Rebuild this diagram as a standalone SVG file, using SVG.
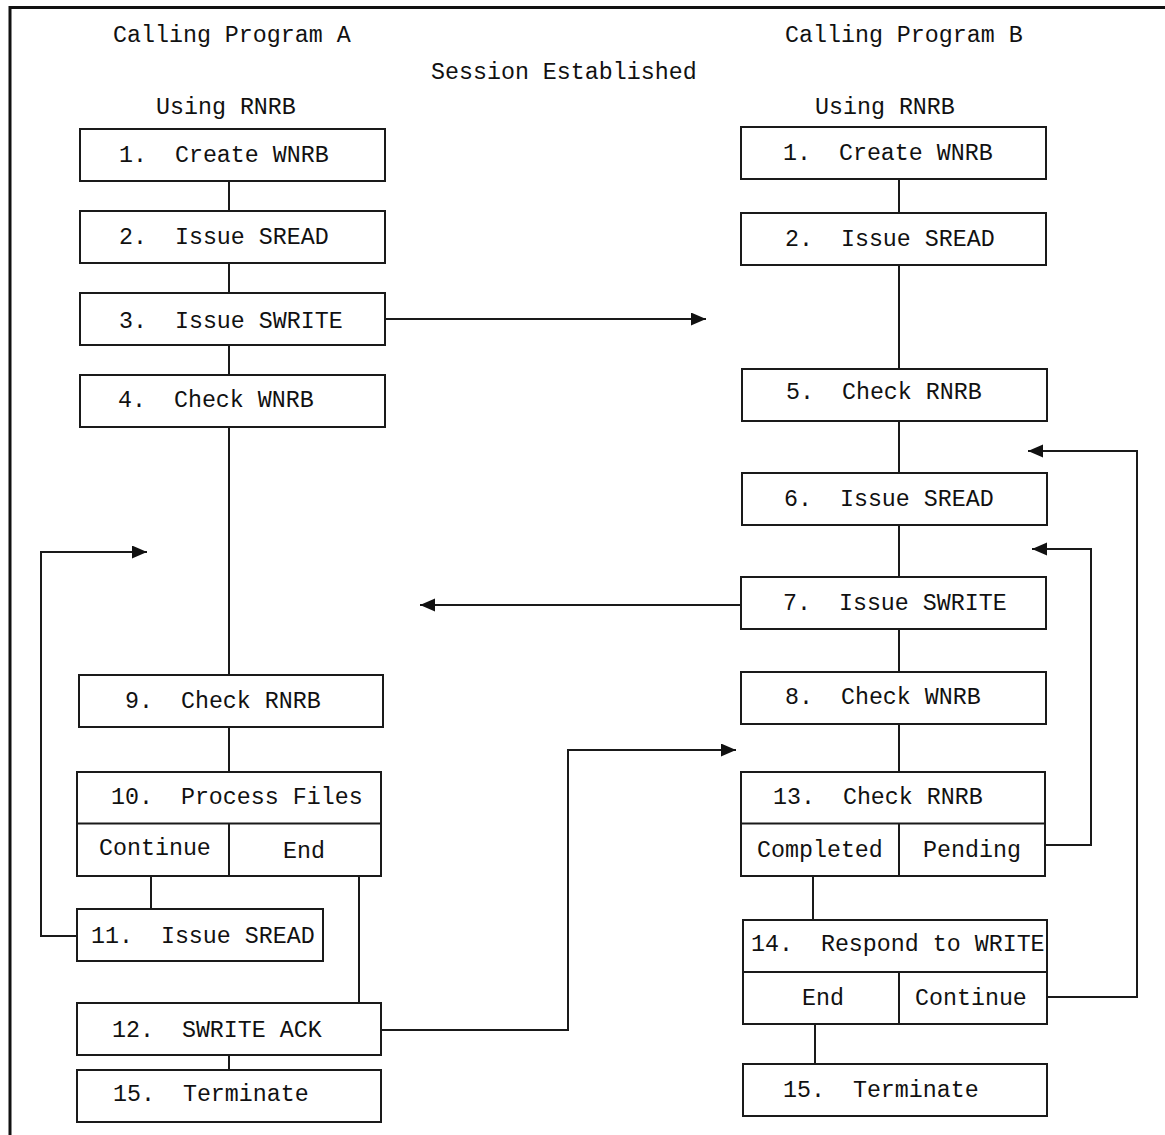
<svg xmlns="http://www.w3.org/2000/svg" width="1165" height="1135" viewBox="0 0 1165 1135">
<style>
  .box{fill:#fff;stroke:#1a1a1a;stroke-width:2}
  .ln{fill:none;stroke:#1a1a1a;stroke-width:2}
  text{font-family:"Liberation Mono","Courier New",monospace;font-size:23.3px;fill:#111;white-space:pre}
</style>
<defs>
  <marker id="ah" markerUnits="userSpaceOnUse" markerWidth="16" markerHeight="14" refX="15" refY="6.5" orient="auto">
    <path d="M0,0 L15,6.5 L0,13 z" fill="#111"/>
  </marker>
</defs>
<rect x="0" y="0" width="1165" height="1135" fill="#fff"/>
<path d="M10,1135 V7.5 H1165" fill="none" stroke="#111" stroke-width="3"/>

<g id="headers">
  <text x="113" y="42">Calling Program A</text>
  <text x="785" y="42">Calling Program B</text>
  <text x="431" y="79">Session Established</text>
  <text x="156" y="114">Using RNRB</text>
  <text x="815" y="114">Using RNRB</text>
</g>

<g id="connectors">
  <path class="ln" d="M229,181 V211 M229,263 V293 M229,345 V375 M229,427 V675 M229,727 V772"/>
  <path class="ln" d="M151,876 V909 M359,876 V1003 M229,1055 V1070"/>
  <path class="ln" d="M77,936 H41 V552 H147" marker-end="url(#ah)"/>
  <path class="ln" d="M385,319 H706" marker-end="url(#ah)"/>
  <path class="ln" d="M741,605 H420" marker-end="url(#ah)"/>
  <path class="ln" d="M381,1030 H568 V750 H736" marker-end="url(#ah)"/>
  <path class="ln" d="M899,179 V213 M899,265 V369 M899,421 V473 M899,525 V577 M899,629 V672 M899,724 V772"/>
  <path class="ln" d="M813,876 V920 M815,1024 V1064"/>
  <path class="ln" d="M1045,845 H1091 V549 H1032" marker-end="url(#ah)"/>
  <path class="ln" d="M1047,997 H1137 V451 H1028" marker-end="url(#ah)"/>
</g>

<g id="a1"><rect class="box" x="80" y="129" width="305" height="52"/><text x="119" y="162">1.  Create WNRB</text></g>
<g id="a2"><rect class="box" x="80" y="211" width="305" height="52"/><text x="119" y="244">2.  Issue SREAD</text></g>
<g id="a3"><rect class="box" x="80" y="293" width="305" height="52"/><text x="119" y="328">3.  Issue SWRITE</text></g>
<g id="a4"><rect class="box" x="80" y="375" width="305" height="52"/><text x="118" y="407">4.  Check WNRB</text></g>
<g id="a9"><rect class="box" x="79" y="675" width="304" height="52"/><text x="125" y="708">9.  Check RNRB</text></g>
<g id="a10">
  <rect class="box" x="77" y="772" width="304" height="104"/>
  <path class="ln" d="M77,823.5 H381 M229,823.5 V876"/>
  <text x="111" y="804">10.  Process Files</text>
  <text x="99" y="855">Continue</text>
  <text x="283" y="858">End</text>
</g>
<g id="a11"><rect class="box" x="77" y="909" width="246" height="52"/><text x="91" y="943">11.  Issue SREAD</text></g>
<g id="a12"><rect class="box" x="77" y="1003" width="304" height="52"/><text x="112" y="1037">12.  SWRITE ACK</text></g>
<g id="a15"><rect class="box" x="77" y="1070" width="304" height="52"/><text x="113" y="1101">15.  Terminate</text></g>

<g id="b1"><rect class="box" x="741" y="127" width="305" height="52"/><text x="783" y="160">1.  Create WNRB</text></g>
<g id="b2"><rect class="box" x="741" y="213" width="305" height="52"/><text x="785" y="246">2.  Issue SREAD</text></g>
<g id="b5"><rect class="box" x="742" y="369" width="305" height="52"/><text x="786" y="399">5.  Check RNRB</text></g>
<g id="b6"><rect class="box" x="742" y="473" width="305" height="52"/><text x="784" y="506">6.  Issue SREAD</text></g>
<g id="b7"><rect class="box" x="741" y="577" width="305" height="52"/><text x="783" y="610">7.  Issue SWRITE</text></g>
<g id="b8"><rect class="box" x="741" y="672" width="305" height="52"/><text x="785" y="704">8.  Check WNRB</text></g>
<g id="b13">
  <rect class="box" x="741" y="772" width="304" height="104"/>
  <path class="ln" d="M741,823.5 H1045 M899,823.5 V876"/>
  <text x="773" y="804">13.  Check RNRB</text>
  <text x="757" y="857">Completed</text>
  <text x="923" y="857">Pending</text>
</g>
<g id="b14">
  <rect class="box" x="743" y="920" width="304" height="104"/>
  <path class="ln" d="M743,972 H1047 M899,972 V1024"/>
  <text x="751" y="951">14.  Respond to WRITE</text>
  <text x="802" y="1005">End</text>
  <text x="915" y="1005">Continue</text>
</g>
<g id="b15"><rect class="box" x="743" y="1064" width="304" height="52"/><text x="783" y="1097">15.  Terminate</text></g>
</svg>
